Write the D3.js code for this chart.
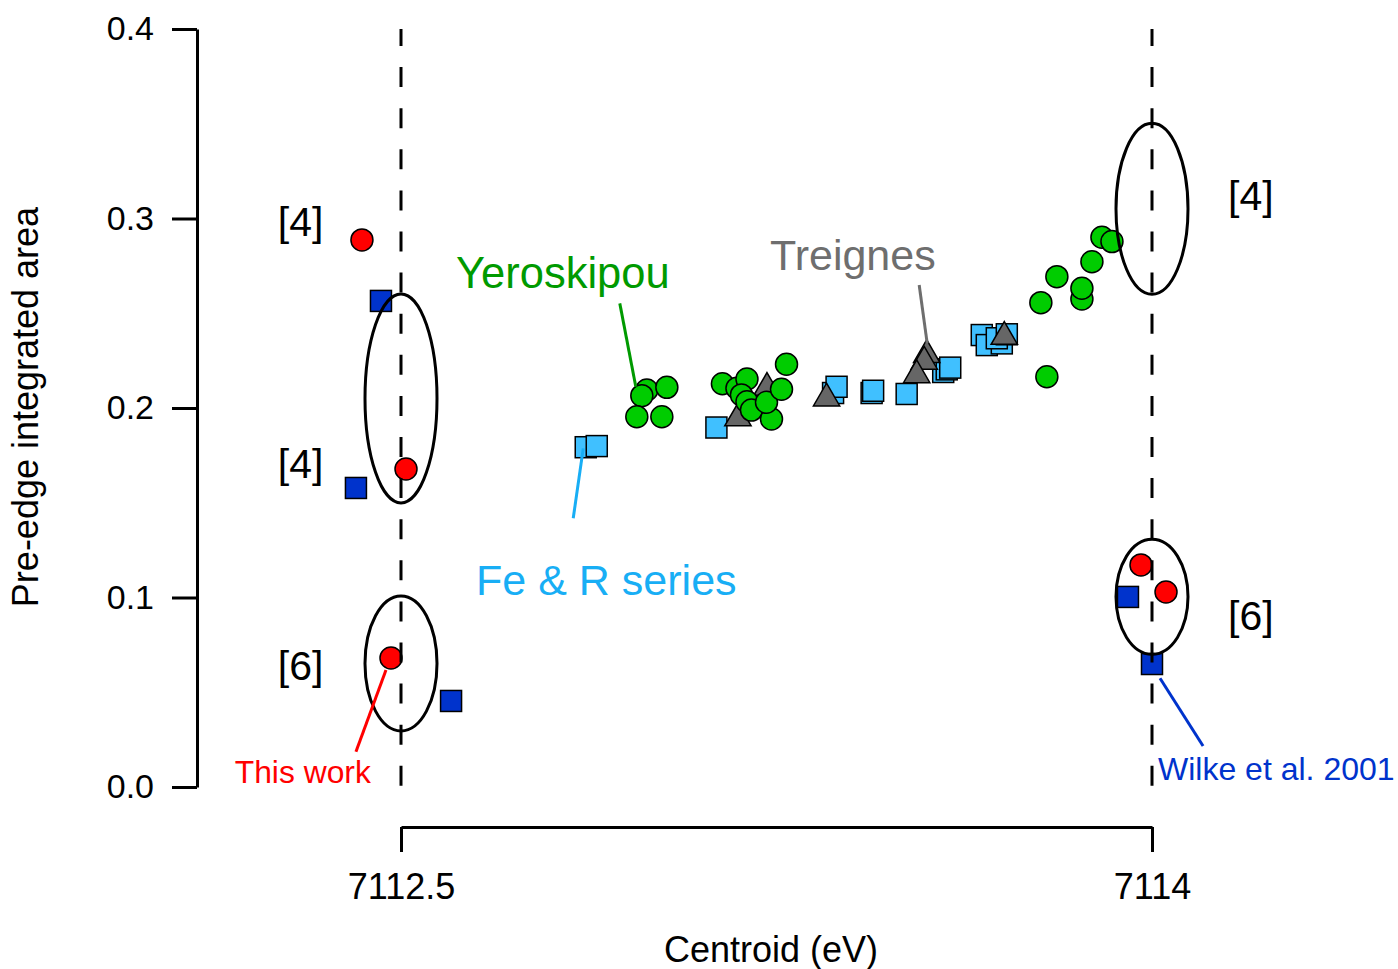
<!DOCTYPE html>
<html><head><meta charset="utf-8">
<script src="https://cdn.jsdelivr.net/npm/d3@7"></script>
<style>
html,body{margin:0;padding:0;background:#fff;}
svg{display:block;font-family:"Liberation Sans",Arial,sans-serif;}
</style></head>
<body>
<svg id="chart" width="1398" height="969"></svg>
<script>
// ---- data ----
const yTicks = [0, 0.1, 0.2, 0.3, 0.4];
const xTicks = [7112.5, 7114];

// This work (red circles)
const thisWorkX = [7112.422, 7112.510, 7112.480, 7113.978, 7114.028];
const thisWorkY = [0.2887, 0.1678, 0.0681, 0.1172, 0.1029];
// Wilke et al. 2001 (dark blue squares)
const wilkeX = [7112.460, 7112.410, 7112.600, 7113.952, 7114.000];
const wilkeY = [0.2565, 0.1578, 0.0454, 0.1003, 0.0649];
// Fe & R series (light blue squares)
const feX = [7112.869, 7112.891, 7113.130, 7113.363, 7113.370, 7113.440, 7113.443, 7113.510, 7113.583, 7113.590, 7113.597, 7113.660, 7113.670, 7113.700, 7113.690, 7113.710];
const feY = [0.1793, 0.1799, 0.1897, 0.2079, 0.2112, 0.2079, 0.2091, 0.2074, 0.2190, 0.2204, 0.2213, 0.2385, 0.2332, 0.2341, 0.2368, 0.2389];
// Treignes (grey triangles)
const trX = [7113.173, 7113.231, 7113.350, 7113.550, 7113.545, 7113.530, 7113.705];
const trY = [0.1946, 0.2107, 0.2051, 0.2280, 0.2245, 0.2174, 0.2376];
// Yeroskipou (green circles)
const yerX = [7112.991, 7112.981, 7113.031, 7112.971, 7113.021, 7113.142, 7113.171, 7113.191, 7113.270, 7113.180, 7113.191, 7113.200, 7113.240, 7113.230, 7113.260, 7113.900, 7113.920, 7113.880, 7113.810, 7113.860, 7113.860, 7113.778, 7113.790];
const yerY = [0.2095, 0.2065, 0.2109, 0.1954, 0.1954, 0.2128, 0.2104, 0.2153, 0.2231, 0.2069, 0.2033, 0.1989, 0.1942, 0.2030, 0.2099, 0.2901, 0.2878, 0.2772, 0.2693, 0.2575, 0.2632, 0.2556, 0.2165];

// annotation ellipses: centre energy, value span
const ellipseX = [7112.5, 7112.5, 7114.0, 7114.0];
const ellipseY0 = [0.1499, 0.0296, 0.2600, 0.0700];
const ellipseY1 = [0.2602, 0.1008, 0.3502, 0.1307];

// coordination labels
const coordText = ["[4]", "[4]", "[6]", "[4]", "[6]"];
const coordX = [7112.254, 7112.254, 7112.254, 7114.152, 7114.152];
const coordY = [0.2908, 0.1631, 0.0565, 0.3045, 0.0828];

// callouts
const calloutText = ["Yeroskipou", "Fe & R series", "Treignes", "This work", "Wilke et al. 2001"];
const calloutX = [7112.610, 7112.650, 7113.237, 7112.168, 7114.012];
const calloutY = [0.2633, 0.1013, 0.2728, 0.0021, 0.0037];
const leaderX1 = [7112.937, 7112.844, 7113.535, 7112.410, 7114.102];
const leaderY1 = [0.2552, 0.1418, 0.2649, 0.0186, 0.0216];
const leaderX2 = [7112.969, 7112.864, 7113.551, 7112.470, 7114.016];
const leaderY2 = [0.2112, 0.1787, 0.2341, 0.0617, 0.0574];

// ---- drawing ----
const svg = d3.select("#chart");
const x = d3.scaleLinear().domain([7112.5, 7114]).range([401, 1152]);
const y = d3.scaleLinear().domain([0, 0.4]).range([787, 29]);

const FONT = '"Liberation Sans",Arial,sans-serif';

// y axis
const yAxis = svg.append("g").attr("transform", "translate(197,0)")
  .call(d3.axisLeft(y).tickValues(yTicks).tickFormat(d3.format(".1f")).tickSize(25).tickSizeOuter(0).tickPadding(18));
yAxis.selectAll("path,line").attr("stroke", "#000").attr("stroke-width", 3);
yAxis.selectAll("text").attr("font-size", 34).attr("font-family", FONT).attr("fill", "#000");

// x axis
const xAxis = svg.append("g").attr("transform", "translate(0,827)")
  .call(d3.axisBottom(x).tickValues(xTicks).tickFormat(d3.format("~g")).tickSize(25).tickSizeOuter(0).tickPadding(21));
xAxis.selectAll("path,line").attr("stroke", "#000").attr("stroke-width", 3);
xAxis.selectAll("text").attr("font-size", 36).attr("font-family", FONT).attr("fill", "#000");

// axis titles
svg.append("text").attr("x", 771).attr("y", 962).attr("text-anchor", "middle")
  .attr("font-size", 36).attr("fill", "#000").text("Centroid (eV)");
svg.append("text").attr("transform", "translate(38,407) rotate(-90)").attr("text-anchor", "middle")
  .attr("font-size", 36).attr("fill", "#000").text("Pre-edge integrated area");

const pts = (xs, ys) => xs.map((v, i) => ({x: v, y: ys[i]}));
const SQ = 21, R = 11;

function squares(data, fill) {
  svg.append("g").selectAll("rect").data(data).join("rect")
    .attr("x", d => x(d.x) - SQ / 2).attr("y", d => y(d.y) - SQ / 2)
    .attr("width", SQ).attr("height", SQ)
    .attr("fill", fill).attr("stroke", "#000").attr("stroke-width", 1.5);
}
function circles(data, fill) {
  svg.append("g").selectAll("circle").data(data).join("circle")
    .attr("cx", d => x(d.x)).attr("cy", d => y(d.y)).attr("r", R)
    .attr("fill", fill).attr("stroke", "#000").attr("stroke-width", 1.5);
}

squares(pts(feX, feY), "#40c0ff");
svg.append("g").selectAll("path").data(pts(trX, trY)).join("path")
  .attr("d", d3.symbol(d3.symbolTriangle, 300))
  .attr("transform", d => `translate(${x(d.x)},${y(d.y)})`)
  .attr("fill", "#666666").attr("stroke", "#000").attr("stroke-width", 1.5);
circles(pts(yerX, yerY), "#00cc00");
squares(pts(wilkeX, wilkeY), "#0033cc");
circles(pts(thisWorkX, thisWorkY), "#ff0000");

// dashed reference lines
svg.append("g").selectAll("line").data(xTicks).join("line")
  .attr("x1", d => x(d)).attr("x2", d => x(d)).attr("y1", y(0.4)).attr("y2", y(0))
  .attr("stroke", "#000").attr("stroke-width", 3)
  .attr("stroke-dasharray", "20,21.1").attr("stroke-dashoffset", 3);

// ellipses
svg.append("g").selectAll("ellipse").data(ellipseX.map((v, i) => ({x: v, y0: ellipseY0[i], y1: ellipseY1[i]}))).join("ellipse")
  .attr("cx", d => x(d.x)).attr("cy", d => (y(d.y0) + y(d.y1)) / 2)
  .attr("rx", 36).attr("ry", d => (y(d.y0) - y(d.y1)) / 2)
  .attr("fill", "none").attr("stroke", "#000").attr("stroke-width", 3);

// coordination labels
svg.append("g").selectAll("text").data(coordText).join("text")
  .attr("x", (d, i) => x(coordX[i])).attr("y", (d, i) => y(coordY[i]))
  .attr("font-size", 41).attr("fill", "#000").text(d => d);

// callouts
const calloutColor = ["#009a00", "#18aef5", "#6e6e6e", "#ff0000", "#0033cc"];
const calloutSize = [43.5, 43, 43, 31.8, 32];
svg.append("g").selectAll("line").data(calloutText).join("line")
  .attr("x1", (d, i) => x(leaderX1[i])).attr("y1", (d, i) => y(leaderY1[i]))
  .attr("x2", (d, i) => x(leaderX2[i])).attr("y2", (d, i) => y(leaderY2[i]))
  .attr("stroke", (d, i) => calloutColor[i]).attr("stroke-width", 3);
svg.append("g").selectAll("text").data(calloutText).join("text")
  .attr("x", (d, i) => x(calloutX[i])).attr("y", (d, i) => y(calloutY[i]))
  .attr("font-size", (d, i) => calloutSize[i]).attr("fill", (d, i) => calloutColor[i]).text(d => d);
</script>
</body></html>
